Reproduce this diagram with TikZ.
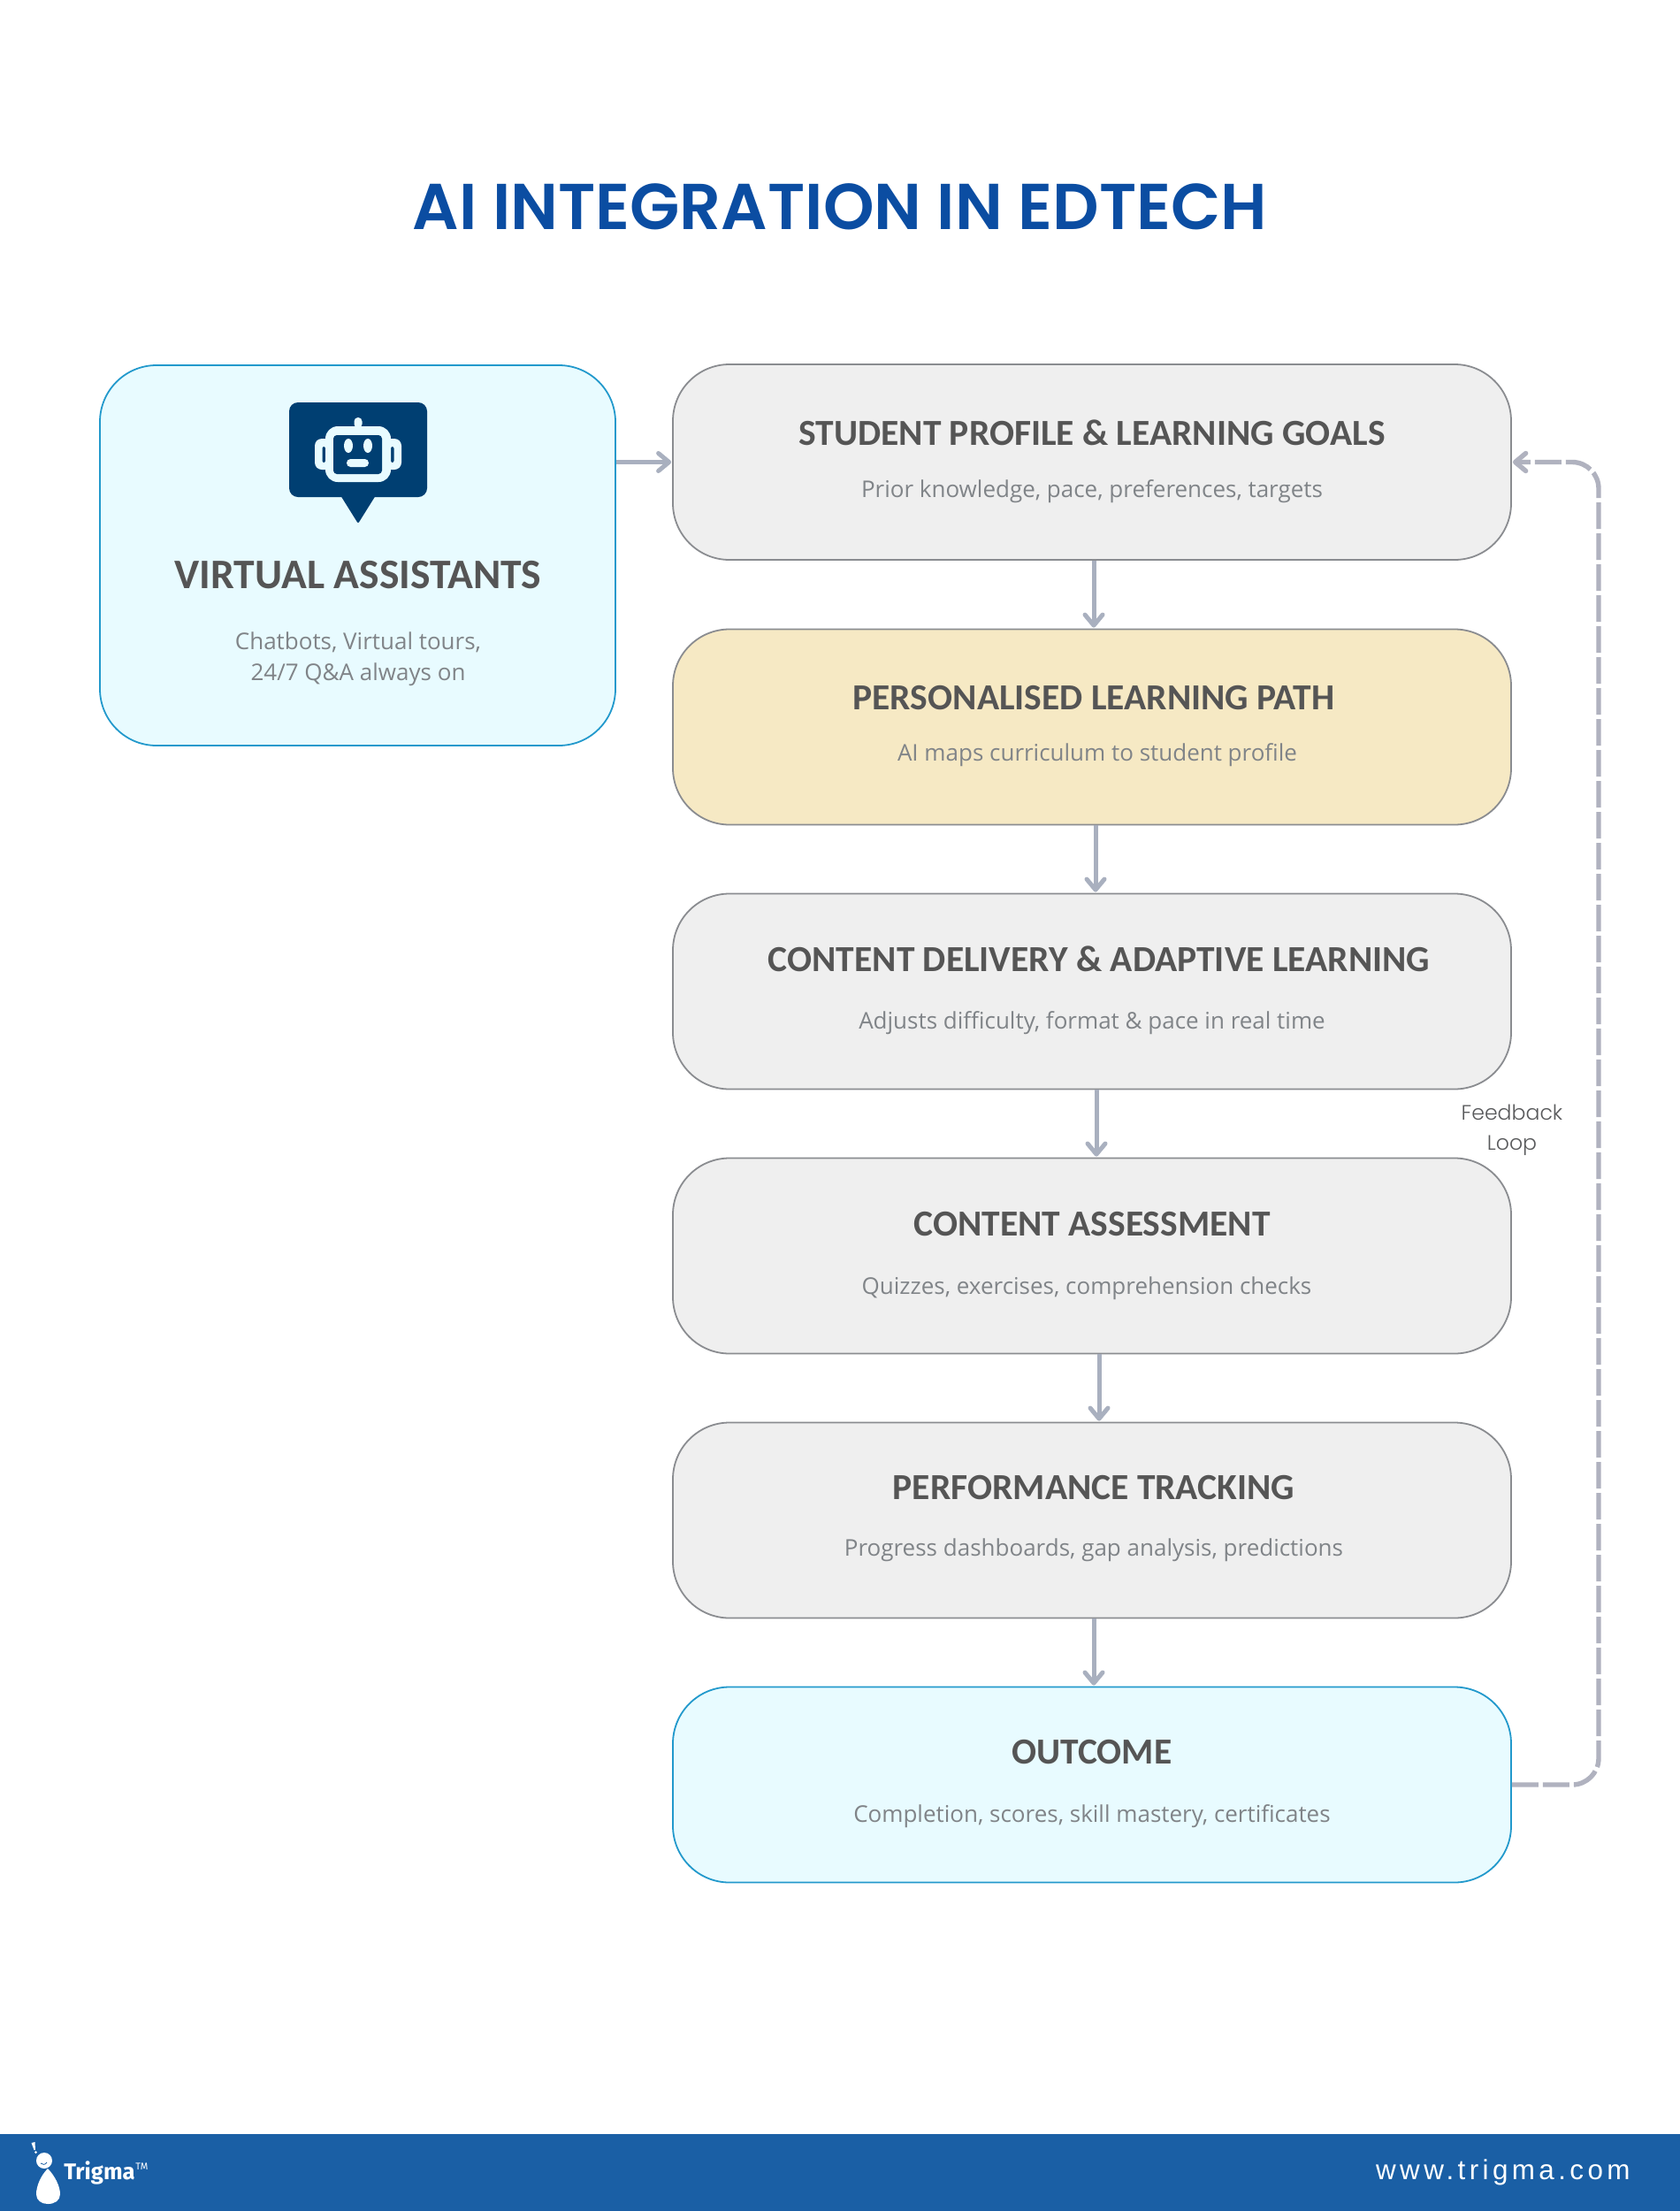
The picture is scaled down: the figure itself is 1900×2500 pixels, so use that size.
\documentclass[tikz,border=0pt]{standalone}
\usepackage{fontspec}
\usetikzlibrary{arrows.meta}
\setmainfont{Open Sans}
\newfontfamily\headfont{Carlito}
\newfontfamily\titlefont{Poppins SemiBold}
\newfontfamily\fbfont{Poppins Light}
\newfontfamily\webfont[LetterSpace=14]{Liberation Sans}
\newfontfamily\logofont{Fira Sans}
\definecolor{boxgrey}{HTML}{EFEFEF}
\definecolor{boxedge}{HTML}{8A8C90}
\definecolor{boxcream}{HTML}{F6E9C4}
\definecolor{boxcyan}{HTML}{E8FBFF}
\definecolor{cyanedge}{HTML}{2299CC}
\definecolor{headtext}{HTML}{555555}
\definecolor{desctext}{HTML}{808488}
\definecolor{connector}{HTML}{A9B0BF}
\definecolor{loopline}{HTML}{B0B2BF}
\definecolor{icondark}{HTML}{003F72}
\definecolor{titleblue}{HTML}{0B4DA2}
\definecolor{footerblue}{HTML}{1A5FA5}
\definecolor{fbtext}{HTML}{58595B}
\tikzset{
  stepbox/.style={draw=boxedge,fill=boxgrey,line width=0.9pt,rounded corners=32pt,minimum width=474pt,minimum height=110.5pt,inner sep=0pt},
  creambox/.style={stepbox,fill=boxcream},
  cyanbox/.style={stepbox,draw=cyanedge,fill=boxcyan},
  headlabel/.style={text=headtext,font=\fontsize{20.75pt}{26pt}\selectfont\headfont\bfseries,inner sep=0pt,anchor=center},
  desclabel/.style={text=desctext,font=\fontsize{13pt}{16pt}\selectfont,inner sep=0pt,anchor=center},
  flowarrow/.style={draw=connector,line width=2.5pt,-{Straight Barb[length=6pt,width=10pt,round]},shorten >=0.5pt},
  looparrow/.style={draw=loopline,line width=2.7pt,dash pattern=on 15pt off 2.5pt,rounded corners=15pt,-{Straight Barb[length=6pt,width=10pt,round]},shorten >=0.5pt},
}
\begin{document}
\begin{tikzpicture}[x=0.5pt,y=-0.5pt]
\useasboundingbox (0,0) rectangle (1900,2500);
\fill[white] (0,0) rectangle (1900,2500);
% title
\node[text=titleblue,font=\fontsize{36.65pt}{44pt}\selectfont\titlefont,inner sep=0pt] (title) at (950,234) {AI INTEGRATION IN EDTECH};
% left box
\node[cyanbox,minimum width=291.5pt,minimum height=215pt] (va) at (404.5,628) {};
% icon
\fill[icondark,rounded corners=5pt] (327,455) rectangle (483,562);
\fill[icondark,rounded corners=1pt] (385,560) -- (425,560) -- (405,592) -- cycle;
\fill[boxcyan,rounded corners=4pt] (356,496) rectangle (376,531);
\fill[boxcyan,rounded corners=4pt] (434,496) rectangle (454,531);
\fill[icondark,rounded corners=1pt] (364.5,505) rectangle (368,523);
\fill[icondark,rounded corners=1pt] (442,505) rectangle (445.5,523);
\fill[boxcyan,rounded corners=7pt] (368,482) rectangle (442,545);
\fill[icondark,rounded corners=2pt] (377,492) rectangle (432,536);
\fill[boxcyan,rounded corners=2.2pt] (400.5,472) rectangle (409.5,484);
\fill[boxcyan] (394,504) ellipse [x radius=5,y radius=8];
\fill[boxcyan] (416,504) ellipse [x radius=5,y radius=8];
\fill[boxcyan,rounded corners=2.2pt] (392,519) rectangle (417,528);
\node[headlabel,font=\fontsize{23.8pt}{28pt}\selectfont\headfont\bfseries] (vah) at (405,650) {VIRTUAL ASSISTANTS};
\node[desclabel] (vad1) at (405,726) {Chatbots, Virtual tours,};
\node[desclabel] (vad2) at (405,763) {24/7 Q\&A always on};
% main boxes
\node[stepbox] (s1) at (1235,522.5) {};
\node[creambox] (s2) at (1235,822) {};
\node[stepbox] (s3) at (1235,1121) {};
\node[stepbox] (s4) at (1235,1420) {};
\node[stepbox] (s5) at (1235,1719) {};
\node[cyanbox] (s6) at (1235,2018) {};
\node[headlabel] (h1) at (1235,489) {STUDENT PROFILE \& LEARNING GOALS};
\node[desclabel] (d1) at (1235,555.5) {Prior knowledge, pace, preferences, targets};
\node[headlabel] (h2) at (1237,789) {PERSONALISED LEARNING PATH};
\node[desclabel] (d2) at (1241,853.5) {AI maps curriculum to student profile};
\node[headlabel] (h3) at (1243,1084) {CONTENT DELIVERY \& ADAPTIVE LEARNING};
\node[desclabel] (d3) at (1235,1156.5) {Adjusts difficulty, format \& pace in real time};
\node[headlabel] (h4) at (1235,1384) {CONTENT ASSESSMENT};
\node[desclabel] (d4) at (1229,1456.5) {Quizzes, exercises, comprehension checks};
\node[headlabel] (h5) at (1237,1682) {PERFORMANCE TRACKING};
\node[desclabel] (d5) at (1237,1752.5) {Progress dashboards, gap analysis, predictions};
\node[headlabel] (h6) at (1235,1981) {OUTCOME};
\node[desclabel] (d6) at (1235,2053.5) {Completion, scores, skill mastery, certificates};
% connectors
\draw[flowarrow] (va.east |- s1.west) -- (s1.west);
\draw[flowarrow] ([xshift=1pt]s1.south) -- ([xshift=1pt]s2.north);
\draw[flowarrow] ([xshift=2pt]s2.south) -- ([xshift=2pt]s2.south |- s3.north);
\draw[flowarrow] ([xshift=2.5pt]s3.south) -- ([xshift=2.5pt]s4.north);
\draw[flowarrow] ([xshift=4pt]s4.south) -- ([xshift=4pt]s5.north);
\draw[flowarrow] ([xshift=1pt]s5.south) -- ([xshift=1pt]s6.north);
\coordinate (loopb) at (1808,2018);
\coordinate (loopt) at (1808,522.5);
\draw[looparrow] (s6.east) -- (loopb) -- (loopt) -- (s1.east);
\node[text=fbtext,font=\fontsize{11.8pt}{17pt}\selectfont\fbfont,align=center,inner sep=0pt] (fb) at (1710,1278) {Feedback\\Loop};
% footer
\fill[footerblue] (0,2413) rectangle (1900,2500);
\fill[white] (50,2443) circle [radius=9];
\fill[white] (54,2452) .. controls (46,2460) and (41,2472) .. (41,2481) .. controls (41,2488) and (47,2492) .. (54,2492) .. controls (62,2492) and (68,2488) .. (68,2481) .. controls (68,2472) and (62,2460) .. (54,2452) -- cycle;
\fill[white] (35.5,2423) -- (39.5,2422) -- (40,2431) -- (38.5,2431) -- cycle;
\fill[white] (40.5,2433.5) circle [radius=1.5];
\draw[footerblue,line width=0.4pt] (46,2446) .. controls (48,2448) and (51,2448) .. (53,2445);
\node[text=white,font=\fontsize{12.8pt}{16pt}\selectfont\logofont\bfseries,inner sep=0pt,anchor=base west] (logo) at (72,2464) {Trigma};
\node[text=white,font=\fontsize{5.5pt}{7pt}\selectfont\logofont,inner sep=0pt,anchor=base west] (tm) at (153,2453) {TM};
\node[text=white,font=\fontsize{15.7pt}{18pt}\selectfont\webfont,inner sep=0pt,anchor=base east] (web) at (1844,2464) {www.trigma.com};
\end{tikzpicture}
\end{document}
